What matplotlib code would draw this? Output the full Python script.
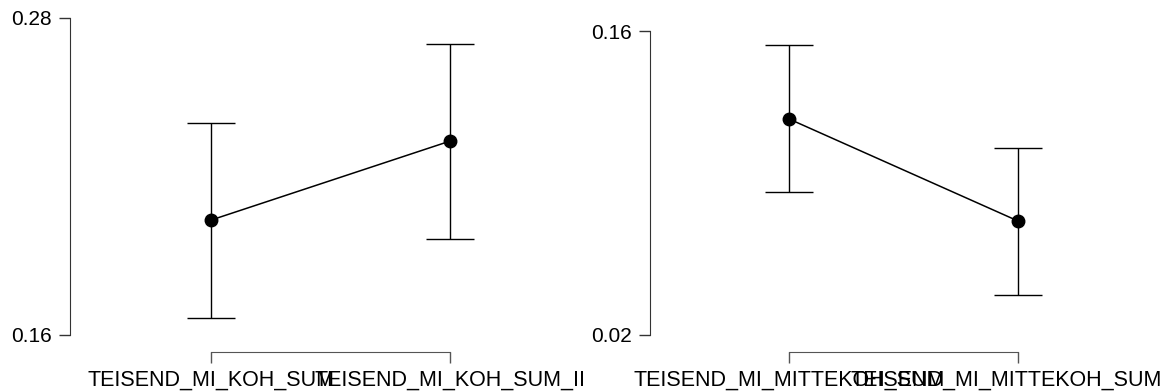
import matplotlib
matplotlib.use("Agg")
import matplotlib.pyplot as plt

plt.rcParams['font.family'] = ['Liberation Sans', 'DejaVu Sans']

left_categories = ["TEISEND_MI_KOH_SUM", "TEISEND_MI_KOH_SUM_II"]
left_means = [0.2035, 0.2334]
left_lower = [0.1664, 0.1963]
left_upper = [0.2403, 0.2702]
left_ticks = [0.16, 0.28]

right_categories = ["TEISEND_MI_MITTEKOH_SUM", "TEISEND_MI_MITTEKOH_SUM_II"]
right_means = [0.1195, 0.0725]
right_lower = [0.0859, 0.0384]
right_upper = [0.1536, 0.1061]
right_ticks = [0.02, 0.16]

W, H = 1160, 391
fig = plt.figure(figsize=(W / 100, H / 100), dpi=100)

def panel(rect, cats, means, lo, hi, ticks, xlim):
    ax = fig.add_axes(rect)
    x = list(range(len(cats)))
    yerr = [[m - l for m, l in zip(means, lo)], [h - m for m, h in zip(means, hi)]]
    ax.errorbar(x, means, yerr=yerr, color='black', lw=1.1, elinewidth=1.0,
                capsize=17, capthick=1.0, marker='o', markersize=9, zorder=3)
    ax.set_xlim(*xlim)
    ax.set_ylim(ticks[0], ticks[-1])
    ax.set_yticks(ticks)
    ax.set_yticklabels([f"{t:.2f}" for t in ticks])
    ax.set_xticks(x)
    ax.set_xticklabels(cats)
    for s in ['top', 'right']:
        ax.spines[s].set_visible(False)
    ax.spines['left'].set_bounds(ticks[0], ticks[-1])
    ax.spines['bottom'].set_bounds(x[0], x[-1])
    ax.spines['bottom'].set_position(('outward', 12.2))
    ax.spines['left'].set_color('#333333')
    ax.spines['bottom'].set_color('#555555')
    ax.tick_params(axis='y', length=8, width=1, pad=5, labelsize=15, colors='#333333', labelcolor='black')
    ax.tick_params(axis='x', length=8, width=1, pad=4.5, labelsize=15.5, colors='#555555', labelcolor='black')
    ax.patch.set_visible(False)
    return ax

bottom = (H - 335) / H
panel([70 / W, bottom, (560 - 70) / W, 317 / H], left_categories, left_means,
      left_lower, left_upper, left_ticks, (-(211 - 70) / 239, 1 + (560 - 450) / 239))
panel([650 / W, bottom, (1150 - 650) / W, 304 / H], right_categories, right_means,
      right_lower, right_upper, right_ticks, (-(789 - 650) / 229, 1 + (1150 - 1018) / 229))

fig.savefig("out.png", dpi=100)
